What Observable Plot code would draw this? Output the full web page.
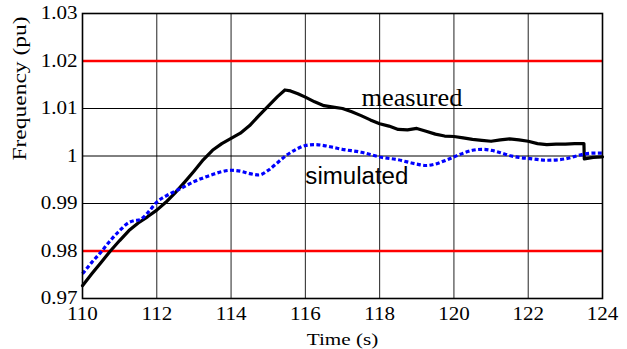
<!DOCTYPE html>
<html>
<head>
<meta charset="utf-8">
<script src="https://cdn.jsdelivr.net/npm/d3@7"></script>
<script src="https://cdn.jsdelivr.net/npm/@observablehq/plot@0.6"></script>
<style>
  html, body { margin: 0; padding: 0; background: white; }
  svg text { font-family: "Liberation Serif", "Times New Roman", serif; }
  svg text.sans { font-family: "Liberation Sans", Arial, sans-serif; }
</style>
</head>
<body>
<div id="chart"></div>
<script>
// ---- data ----
const measuredTime = [110.0,110.25,110.5,110.75,111.0,111.25,111.5,111.75,112.0,112.25,112.5,112.75,113.0,113.25,113.5,113.75,114.0,114.25,114.5,114.75,115.0,115.25,115.45,115.6,115.8,116.0,116.25,116.5,116.75,117.0,117.25,117.5,117.75,118.0,118.25,118.5,118.75,119.0,119.25,119.5,119.75,120.0,120.25,120.5,120.75,121.0,121.25,121.5,121.75,122.0,122.25,122.5,122.75,123.0,123.25,123.5,123.51,123.75,124.0];
const measuredFreq = [0.9727,0.9752,0.9776,0.9800,0.9822,0.9843,0.9859,0.9872,0.9886,0.9903,0.9923,0.9945,0.9968,0.9992,1.0012,1.0026,1.0037,1.0048,1.0064,1.0085,1.0105,1.0125,1.0139,1.0137,1.0131,1.0124,1.0114,1.0106,1.0103,1.0100,1.0093,1.0085,1.0076,1.0068,1.0063,1.0056,1.0055,1.0058,1.0052,1.0046,1.0042,1.0041,1.0038,1.0035,1.0033,1.0031,1.0034,1.0036,1.0034,1.0031,1.0026,1.0024,1.0025,1.0025,1.0026,1.0026,0.9994,0.9997,0.9998];

const simulatedTime = [110.0,110.25,110.5,110.75,111.0,111.25,111.4,111.55,111.75,112.0,112.25,112.5,112.75,113.0,113.25,113.5,113.75,114.0,114.25,114.5,114.75,115.0,115.25,115.5,115.75,116.0,116.25,116.5,116.75,117.0,117.5,118.0,118.5,119.0,119.25,119.5,119.75,120.0,120.25,120.5,120.75,121.0,121.25,121.5,121.75,122.0,122.5,123.0,123.25,123.5,123.75,124.0];
const simulatedFreq = [0.9752,0.9776,0.9798,0.9822,0.9843,0.9860,0.9864,0.9866,0.9880,0.9903,0.9916,0.9926,0.9936,0.9946,0.9954,0.9961,0.9967,0.9970,0.9968,0.9963,0.9960,0.9970,0.9986,1.0002,1.0014,1.0022,1.0024,1.0022,1.0018,1.0014,1.0008,0.9998,0.9992,0.9983,0.9980,0.9983,0.9990,0.9998,1.0006,1.0012,1.0014,1.0012,1.0007,1.0001,0.9997,0.9995,0.9991,0.9994,0.9999,1.0004,1.0006,1.0006];

const limits = [0.98, 1.02];
const xTicks = [110,112,114,116,118,120,122,124];
const yTicks = [0.97,0.98,0.99,1.00,1.01,1.02,1.03];
const yTickLabels = ["0.97","0.98","0.99","1","1.01","1.02","1.03"];
const xTickLabels = ["110","112","114","116","118","120","122","124"];
const xLabel = "Time (s)";
const yLabel = "Frequency (pu)";
const seriesLabels = [
  {name: "measured", t: 117.51, f: 1.01063},
  {name: "simulated", t: 116.0, f: 0.99415}
];

const measured = measuredTime.map((t, i) => ({t, f: measuredFreq[i]}));
const simulated = simulatedTime.map((t, i) => ({t, f: simulatedFreq[i]}));

const serif = "'Liberation Serif', 'Times New Roman', serif";
const sans = "'Liberation Sans', Arial, sans-serif";

const chart = Plot.plot({
  width: 627,
  height: 349,
  marginLeft: 82,
  marginRight: 25,
  marginTop: 13,
  marginBottom: 51,
  style: {fontFamily: serif, fontSize: "18px", background: "white", color: "black", overflow: "visible"},
  x: {domain: [110, 124], label: null},
  y: {domain: [0.97, 1.03], label: null},
  marks: [
    Plot.gridX(xTicks, {stroke: "#222", strokeOpacity: 1, strokeWidth: 1}),
    Plot.gridY(yTicks, {stroke: "#000", strokeOpacity: 1, strokeWidth: 1}),
    Plot.ruleY(limits, {stroke: "#ff0000", strokeWidth: 2.6}),
    Plot.line(measured, {x: "t", y: "f", stroke: "#000", strokeWidth: 3.2, strokeLinejoin: "round"}),
    Plot.line(simulated, {x: "t", y: "f", stroke: "#0000ff", strokeWidth: 3.2, strokeDasharray: "4,2.4", strokeLinecap: "butt", strokeLinejoin: "miter", curve: "monotone-x"}),
    Plot.axisX(xTicks, {tickSize: 0, tickPadding: 9, tickFormat: d => xTickLabels[xTicks.indexOf(d)], label: null, fontSize: 18, fontFamily: serif}),
    Plot.axisY(yTicks, {tickSize: 0, tickPadding: 5, tickFormat: d => yTickLabels[yTicks.indexOf(d)], label: null, fontSize: 18, fontFamily: serif}),
    Plot.text(seriesLabels.slice(0,1), {x: "t", y: "f", text: "name", textAnchor: "start", lineAnchor: "bottom", fontSize: 26, fill: "black", fontFamily: serif}),
    Plot.text(seriesLabels.slice(1), {x: "t", y: "f", text: "name", textAnchor: "start", lineAnchor: "bottom", fontSize: 23, fill: "black", fontFamily: sans}),
    Plot.text([xLabel], {frameAnchor: "bottom", lineAnchor: "bottom", dy: 46, fontSize: 17, fill: "black", fontFamily: serif}),
    Plot.text([yLabel], {frameAnchor: "left", lineAnchor: "bottom", rotate: -90, dx: -57, dy: 4.5, fontSize: 18, fill: "black", fontFamily: serif}),
    Plot.frame({stroke: "#000", strokeWidth: 1.6})
  ]
});

document.getElementById("chart").appendChild(chart);

// Horizontal stretch of text to match the reference's wide rendering
const targets = {"measured": 101, "simulated": 103, "Time (s)": 71.5, "Frequency (pu)": 144};
chart.querySelectorAll("text").forEach(el => {
  const s = el.textContent;
  if (s === "simulated") el.classList.add("sans");
  const len = el.getComputedTextLength();
  if (!len) return;
  const target = targets[s] !== undefined ? targets[s] : len * 1.17;
  el.setAttribute("textLength", target);
  el.setAttribute("lengthAdjust", "spacingAndGlyphs");
});
</script>
</body>
</html>
